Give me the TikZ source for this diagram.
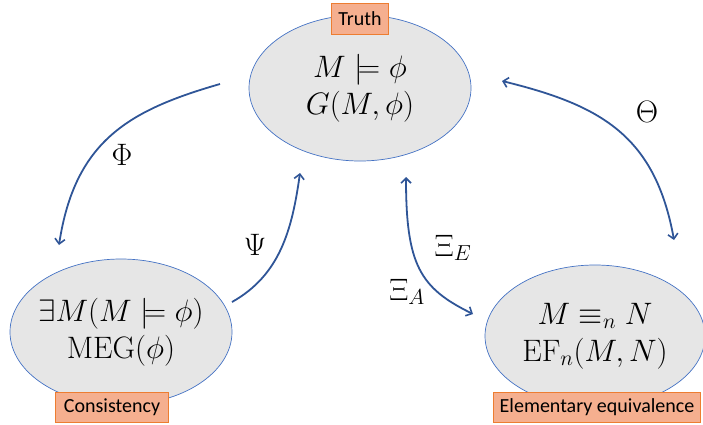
\RequirePackage{fix-cm}
\documentclass[tikz,border=0pt]{standalone}
\usepackage{fontspec}
\newfontfamily\calfont{Carlito}
\usetikzlibrary{arrows.meta,shapes.geometric}
\definecolor{arrowblue}{HTML}{2F5597}
\definecolor{ellborder}{HTML}{4472C4}
\definecolor{ellfill}{HTML}{E6E6E6}
\definecolor{tagfill}{HTML}{F5AF8F}
\definecolor{tagborder}{HTML}{ED7D31}
\tikzset{
  state/.style={ellipse, draw=ellborder, fill=ellfill, line width=0.7pt,
    minimum width=222pt, minimum height=146pt, inner sep=0pt,
    align=center, font=\fontsize{31}{37}\selectfont},
  tag/.style={draw=tagborder, fill=tagfill, line width=0.6pt, inner sep=0pt,
    font=\calfont\fontsize{20}{22}\selectfont},
  link/.style={draw=arrowblue, line width=1.8pt, -{Straight Barb[length=5pt,width=10pt,line width=1.6pt]}},
  dlink/.style={draw=arrowblue, line width=1.8pt, {Straight Barb[length=5pt,width=10pt,line width=1.6pt]}-{Straight Barb[length=5pt,width=10pt,line width=1.6pt]}},
  lab/.style={font=\fontsize{31}{34}\selectfont, inner sep=0pt}
}
\begin{document}
\begin{tikzpicture}[x=1pt,y=-1pt]
\useasboundingbox (0,0) rectangle (703,424);
\node[state] (truth) at (360,88) {$M\models\phi$\\$G(M,\phi)$};
\node[tag, minimum width=57pt, minimum height=31pt] (ttag) at (360,19) {Truth};
\node[state, inner xsep=-9pt] (cons) at (121,332) {$\exists M(M\models\phi)$\\$\mathrm{MEG}(\phi)$};
\node[tag, minimum width=113pt, minimum height=30pt] (ctag) at (112,407) {Consistency};
\node[state, minimum width=220pt, minimum height=142pt] (elem) at (595,336) {$M\equiv_n N$\\$\mathrm{EF}_n(M,N)$};
\node[tag, minimum width=207pt, minimum height=30pt] (etag) at (597,407) {Elementary equivalence};

\coordinate (phiS) at (220,84);
\coordinate (phiE) at (59,245);
\draw[link] (phiS) .. controls (130,110) and (75,140) .. (phiE);
\node[lab] (phil) at (122,155) {$\Phi$};

\coordinate (psiS) at (232,302);
\coordinate (psiE) at (300,173);
\draw[link] (psiS) .. controls (280,275) and (292,230) .. (psiE);
\node[lab] (psil) at (255,245) {$\Psi$};

\coordinate (xiS) at (406,177);
\coordinate (xiE) at (473,314);
\draw[dlink] (xiS) .. controls (406,265) and (420,288) .. (xiE);
\node[lab] (xie) at (453,248) {$\Xi_E$};
\node[lab] (xia) at (407,292) {$\Xi_A$};

\coordinate (thS) at (502,81);
\coordinate (thE) at (674,240);
\draw[dlink] (thS) .. controls (600,105) and (655,135) .. (thE);
\node[lab] (thl) at (647,112) {$\Theta$};
\end{tikzpicture}
\end{document}
